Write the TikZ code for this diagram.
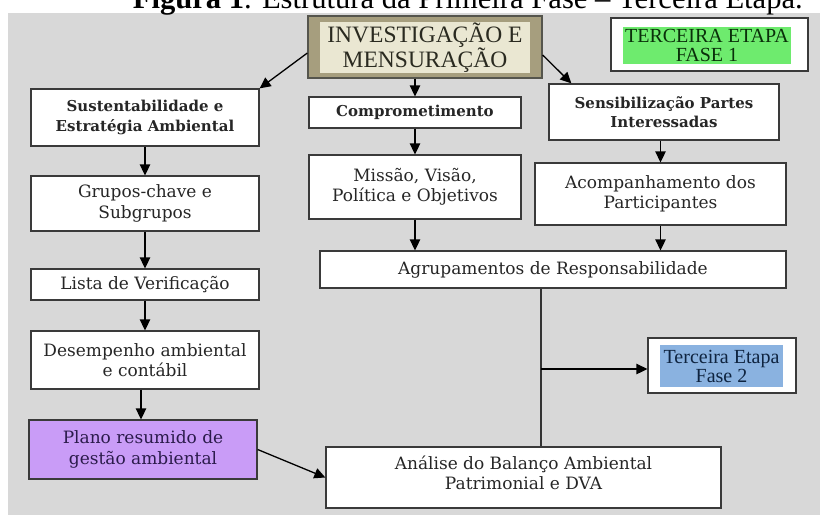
\documentclass[tikz,border=0pt]{standalone}
\usepackage{fontspec}
\setmainfont{Liberation Serif}
\newfontfamily\dvs{DejaVu Serif}
\usetikzlibrary{arrows.meta,calc}
\definecolor{bggray}{HTML}{D8D8D8}
\definecolor{boxline}{HTML}{3A3A3A}
\definecolor{investout}{HTML}{A69E7E}
\definecolor{investin}{HTML}{EAE7D2}
\definecolor{investtext}{HTML}{2A2A20}
\definecolor{greenfill}{HTML}{6EEB6E}
\definecolor{greentext}{HTML}{0A300A}
\definecolor{purplefill}{HTML}{C99CF7}
\definecolor{purpletext}{HTML}{2B1B4B}
\definecolor{bluefill}{HTML}{8AB2E0}
\definecolor{bluetext}{HTML}{0F2440}
\tikzset{
  box/.style={draw=boxline, fill=white, line width=1.3pt, inner sep=0pt, align=center,
    font=\dvs\fontsize{17}{20.5}\selectfont, text=black!85},
  boldbox/.style={box, font=\dvs\bfseries\fontsize{15}{19.5}\selectfont},
  arr/.style={draw=black, line width=1.3pt, -{Triangle[length=11pt,width=10.5pt]}},
  plainline/.style={draw=black!80, line width=1.3pt},
}
\begin{document}
\begin{tikzpicture}[x=1pt,y=-1pt]
\useasboundingbox (0,0) rectangle (820,515);
\clip (0,0) rectangle (820,515);
\fill[white] (0,0) rectangle (820,515);
\fill[bggray] (8,13) rectangle (820,515);
% title
\node[anchor=base east, inner sep=0pt, font=\fontsize{30.6}{34}\selectfont] (title) at (803,8.5)
  {\textbf{Figura 1}. Estrutura da Primeira Fase -- Terceira Etapa.};
% top box
\node[draw=investtext!80, fill=investout, line width=1.3pt, minimum width=234pt, minimum height=62pt, inner sep=0pt] (invest) at (425,47) {};
\node[fill=investin, minimum width=210pt, minimum height=49pt, inner sep=0pt, align=center,
  font=\fontsize{23.5}{22.5}\selectfont, text=investtext] (investtxt) at (425,47.5) {INVESTIGAÇÃO E\\MENSURAÇÃO};
% Fase 1
\node[draw=boxline, fill=white, line width=1.3pt, minimum width=197pt, minimum height=53pt, inner sep=0pt] (fase1) at (709.5,44.5) {};
\node[fill=greenfill, minimum width=168pt, minimum height=37pt, inner sep=0pt, align=center,
  font=\fontsize{20}{19}\selectfont, text=greentext] (fase1txt) at (707,45.5) {TERCEIRA ETAPA\\FASE 1};
% left column
\node[boldbox, minimum width=228pt, minimum height=57pt] (sust) at (145,117.5) {Sustentabilidade e\\Estratégia Ambiental};
\node[box, minimum width=228pt, minimum height=55pt] (grupos) at (145,203.5) {Grupos-chave e\\Subgrupos};
\node[box, minimum width=228pt, minimum height=31pt] (lista) at (145,284.5) {Lista de Verificação};
\node[box, minimum width=228pt, minimum height=58pt] (desemp) at (145,360) {Desempenho ambiental\\e contábil};
\node[box, fill=purplefill, text=purpletext, minimum width=228pt, minimum height=59pt] (plano) at (143,449.5) {Plano resumido de\\gestão ambiental};
% middle column
\node[boldbox, minimum width=212pt, minimum height=31pt] (compr) at (415,112.5) {Comprometimento};
\node[box, minimum width=212pt, minimum height=64pt] (missao) at (415,187) {Missão, Visão,\\Política e Objetivos};
% right column
\node[boldbox, minimum width=230pt, minimum height=56pt] (sens) at (664,112) {Sensibilização Partes\\Interessadas};
\node[box, minimum width=251pt, minimum height=62pt] (acomp) at (660.5,194) {Acompanhamento dos\\Participantes};
% bottom
\node[box, minimum width=466pt, minimum height=37pt] (agrup) at (553,269.5) {Agrupamentos de Responsabilidade};
\node[box, minimum width=395pt, minimum height=61pt] (analise) at (523.5,477.5) {};
\node[box, draw=none, fill=none] (analisetxt) at (523.5,473) {Análise do Balanço Ambiental\\Patrimonial e DVA};
% Fase 2
\node[draw=boxline, fill=white, line width=1.3pt, minimum width=148pt, minimum height=55pt, inner sep=0pt] (fase2) at (722,365.5) {};
\node[fill=bluefill, minimum width=123pt, minimum height=42pt, inner sep=0pt, align=center,
  font=\fontsize{20}{19}\selectfont, text=bluetext] (fase2txt) at (721.5,366) {Terceira Etapa\\Fase 2};
% connectors
\draw[arr] ([yshift=-6pt]invest.west) -- (sust.north east);
\draw[arr] (compr.north |- invest.south) -- (compr.north);
\draw[arr] ([yshift=-8pt]invest.east) -- ([xshift=23pt]sens.north west);
\draw[arr] (sust.south) -- (grupos.north);
\draw[arr] (grupos.south) -- (lista.north);
\draw[arr] (lista.south) -- (desemp.north);
\draw[arr] ([xshift=-4pt]desemp.south) -- ([xshift=-2pt]plano.north);
\draw[arr] (compr.south) -- (missao.north);
\draw[arr] (acomp.north |- sens.south) -- (acomp.north);
\draw[arr] (missao.south) -- (missao.south |- agrup.north);
\draw[arr] (acomp.south) -- (acomp.south |- agrup.north);
\coordinate (j) at (541,369);
\draw[plainline] (agrup.south -| j) -- (analise.north -| j);
\draw[arr] (j) -- (j -| fase2.west);
\draw[arr] (plano.east) -- (analise.west);
\end{tikzpicture}
\end{document}
